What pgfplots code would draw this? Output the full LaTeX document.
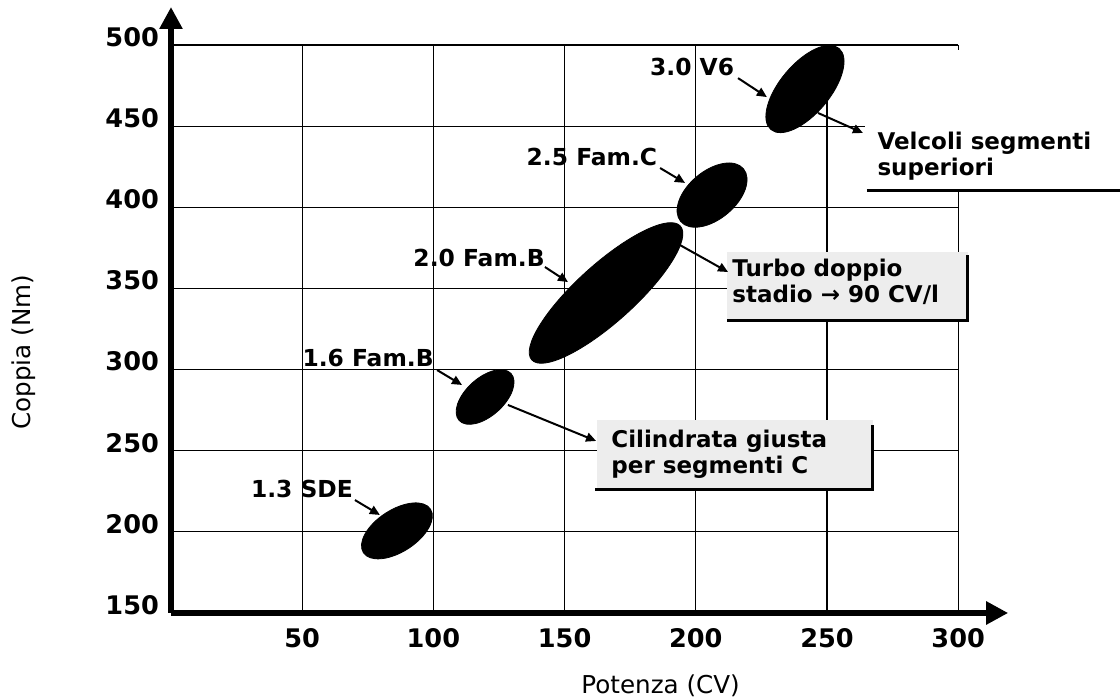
\documentclass[border=0pt]{standalone}
\usepackage{pgfplots}
\pgfplotsset{compat=1.18}
\usepackage{fontspec}
\setmainfont{DejaVu Sans}
\usetikzlibrary{arrows.meta}
\newcommand\tickfont{\fontsize{12.8}{15}\selectfont\bfseries}
\newcommand\lblfont{\fontsize{11.7}{14}\selectfont\bfseries}
\newcommand\boxfont{\fontsize{11.5}{13}\selectfont\bfseries}
\begin{document}
\begin{tikzpicture}
\useasboundingbox (-85.5pt,-43pt) rectangle (474.5pt,306.5pt);
\begin{axis}[
  at={(0pt,0pt)}, anchor=south west,
  scale only axis, width=393.6pt, height=284.0pt,
  xmin=0, xmax=300, ymin=150, ymax=500,
  axis lines=left,
  x axis line style={line width=3pt, -{Triangle[length=11pt,width=11pt]}, shorten >=-25pt},
  y axis line style={line width=3pt, -{Triangle[length=11pt,width=11pt]}, shorten >=-19pt},
  xtick={50,100,...,300}, ytick={150,200,...,500},
  major tick length=0pt,
  grid=major, grid style={black, line width=0.6pt},
  tick label style={font=\tickfont},
  /pgf/number format/assume math mode=true,
  yticklabel style={yshift=4pt, xshift=-2.5pt},
  xticklabel style={yshift=-4pt},
  xlabel={Potenza (CV)}, ylabel={Coppia (Nm)},
  label style={font=\fontsize{12.3}{14}\selectfont},
  xlabel style={at={(axis description cs:0.622,-0.1286)}, anchor=center},
  ylabel style={at={(axis description cs:-0.187,0.459)}, anchor=center},
  clip=false,
]
% white / speckled annotation boxes
\fill[white] (axis cs:264.5,496.9) rectangle (axis cs:361.7,410.6);
\fill[black!7] (axis cs:211.9,372.4) rectangle (axis cs:303.7,330.5);
\fill[black!7] (axis cs:162.3,268.9) rectangle (axis cs:267.5,226.4);

% ellipses (engine families)
\addplot[only marks, mark=*, mark size=1pt, mark options={fill=black, draw=none, rotate=33, xscale=20, yscale=10.5}] coordinates {(86.1,200.6)};
\addplot[only marks, mark=*, mark size=1pt, mark options={fill=black, draw=none, rotate=42, xscale=17.5, yscale=9.5}] coordinates {(119.7,283.1)};
\addplot[only marks, mark=*, mark size=1pt, mark options={fill=black, draw=none, rotate=42, xscale=50, yscale=14.5}] coordinates {(165.8,347.2)};
\addplot[only marks, mark=*, mark size=1pt, mark options={fill=black, draw=none, rotate=40, xscale=20.5, yscale=12}] coordinates {(206.2,407.5)};
\addplot[only marks, mark=*, mark size=1pt, mark options={fill=black, draw=none, rotate=50, xscale=26.5, yscale=12.5}] coordinates {(241.6,472.9)};

% labels
\node[font=\lblfont] at (axis cs:198.6,486.4) {3.0 V6};
\node[font=\lblfont] at (axis cs:160.4,431.0) {2.5 Fam.C};
\node[font=\lblfont] at (axis cs:117.4,368.7) {2.0 Fam.B};
\node[font=\lblfont] at (axis cs:75.1,307.1) {1.6 Fam.B};
\node[font=\lblfont] at (axis cs:49.9,226.4) {1.3 SDE};

% box texts
\node[anchor=north west, inner sep=0pt, align=left, font=\boxfont] at (axis cs:269.1,446.4) {Velcoli segmenti\\superiori};
\node[anchor=north west, inner sep=0pt, align=left, font=\boxfont] at (axis cs:213.8,368.1) {Turbo doppio\\stadio → 90 CV/l};
\node[anchor=north west, inner sep=0pt, align=left, font=\boxfont] at (axis cs:167.7,262.8) {Cilindrata giusta\\per segmenti C};

% box lines
\draw[line width=1.5pt] (axis cs:265.2,410.6) -- (axis cs:361.7,410.6);
\draw[line width=1.5pt] (axis cs:211.9,330.5) -- (axis cs:303.7,330.5) -- (axis cs:303.7,370.6);
\draw[line width=1.5pt] (axis cs:161.6,226.4) -- (axis cs:267.5,226.4) -- (axis cs:267.5,265.8);

% arrows
\tikzset{arr/.style={line width=1pt, -{Triangle[length=5pt,width=4.5pt]}}}
\draw[arr] (axis cs:216.1,479.6) -- (axis cs:227.1,467.9);
\draw[arr] (axis cs:246.6,458.1) -- (axis cs:263.7,445.8);
\draw[arr] (axis cs:186.4,424.2) -- (axis cs:195.9,415.0);
\draw[arr] (axis cs:142.5,363.2) -- (axis cs:151.3,353.9);
\draw[arr] (axis cs:194.0,376.7) -- (axis cs:212.3,360.1);
\draw[arr] (axis cs:101.4,299.7) -- (axis cs:110.9,290.5);
\draw[arr] (axis cs:128.4,278.2) -- (axis cs:162.0,256.0);
\draw[arr] (axis cs:70.1,219.6) -- (axis cs:79.6,210.4);
\end{axis}
\end{tikzpicture}
\end{document}
